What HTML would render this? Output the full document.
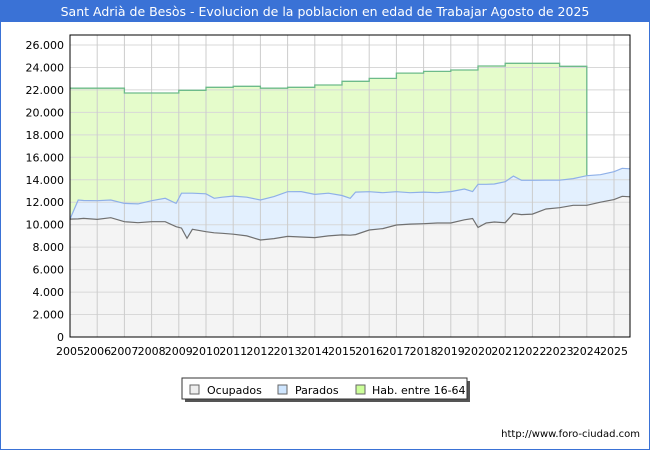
<!DOCTYPE html>
<html><head><meta charset="utf-8"><style>
body{margin:0;background:#fff;}
svg{display:block;font-family:"DejaVu Sans","Liberation Sans",sans-serif;}
</style></head><body>
<svg id="chart" width="650" height="450" viewBox="0 0 650 450">
<rect x="0" y="0" width="650" height="450" fill="#fff" stroke="#3a72d6" stroke-width="2"/>
<rect x="0" y="0" width="650" height="22" fill="#3a72d6"/>
<text x="325" y="16" text-anchor="middle" fill="#fff" font-size="12.5">Sant Adrià de Besòs - Evolucion de la poblacion en edad de Trabajar Agosto de 2025</text>
<g id="plot"></g>
<g>
<rect x="185" y="381" width="285" height="21" fill="#555"/>
<rect x="182" y="378" width="285" height="21" fill="#fff" stroke="#333"/>
<rect x="190" y="385" width="9" height="9" fill="#eeeeee" stroke="#666"/>
<text x="207" y="394" font-size="11" fill="#000">Ocupados</text>
<rect x="278" y="385" width="9" height="9" fill="#cfe6ff" stroke="#666"/>
<text x="295" y="394" font-size="11" fill="#000">Parados</text>
<rect x="356" y="385" width="9" height="9" fill="#ccff99" stroke="#666"/>
<text x="372" y="394" font-size="11" fill="#000">Hab. entre 16-64</text>
</g>
<text x="640" y="437" text-anchor="end" font-size="10" fill="#000">http://www.foro-ciudad.com</text>
</svg>
<script>
const years = [2005,2006,2007,2008,2009,2010,2011,2012,2013,2014,2015,2016,2017,2018,2019,2020,2021,2022,2023];
const habValues = [22150,22150,21725,21725,21970,22230,22320,22150,22230,22440,22770,23030,23500,23650,23770,24130,24370,24370,24100];
const monthTimes = [2005.0,2005.3,2005.5,2006.0,2006.5,2007.0,2007.5,2008.0,2008.5,2008.9,2009.1,2009.3,2009.5,2010.0,2010.3,2010.6,2011.0,2011.5,2012.0,2012.5,2013.0,2013.5,2014.0,2014.5,2015.0,2015.3,2015.5,2016.0,2016.5,2017.0,2017.5,2018.0,2018.5,2019.0,2019.5,2019.8,2020.0,2020.3,2020.6,2021.0,2021.3,2021.6,2022.0,2022.5,2023.0,2023.5,2024.0,2024.5,2025.0,2025.3,2025.6];
const paradosValues = [10500,12200,12150,12140,12200,11900,11850,12140,12350,11900,12800,12800,12800,12750,12350,12450,12550,12450,12200,12500,12940,12950,12700,12800,12600,12350,12900,12940,12850,12940,12850,12900,12850,12950,13180,12950,13600,13600,13620,13830,14330,13950,13950,13960,13960,14100,14360,14450,14720,15020,14980];
const ocupadosValues = [10500,10520,10560,10470,10620,10270,10180,10270,10270,9820,9700,8790,9590,9380,9280,9230,9150,9000,8640,8760,8960,8900,8850,9000,9090,9060,9120,9530,9650,9970,10050,10090,10150,10150,10440,10550,9760,10150,10240,10180,11000,10900,10940,11400,11510,11730,11730,12000,12230,12530,12480];
const yTicks = [0,2000,4000,6000,8000,10000,12000,14000,16000,18000,20000,22000,24000,26000];
const xTickYears = [2005,2006,2007,2008,2009,2010,2011,2012,2013,2014,2015,2016,2017,2018,2019,2020,2021,2022,2023,2024,2025];

const NS="http://www.w3.org/2000/svg";
const L=70,R=630,T=35,B=337;
const xS=t=>L+(t-2005)*27.2;
const yS=v=>B-v*(B-45)/26000;
const g=document.getElementById('plot');
function mk(tag,attrs){const e=document.createElementNS(NS,tag);for(const k in attrs)e.setAttribute(k,attrs[k]);g.appendChild(e);return e;}

const bg=mk('rect',{x:L,y:T,width:R-L,height:B-T,fill:'#fff'});



const tEnd=2024.0;
let hp=[];
years.forEach((yr,i)=>{const nx=i<years.length-1?years[i+1]:tEnd;hp.push([xS(yr),yS(habValues[i])]);hp.push([xS(nx),yS(habValues[i])]);});
function interp(arr,t){for(let i=0;i<monthTimes.length-1;i++){if(t>=monthTimes[i]&&t<=monthTimes[i+1]){const f=(t-monthTimes[i])/(monthTimes[i+1]-monthTimes[i]);return arr[i]+f*(arr[i+1]-arr[i]);}}return arr[arr.length-1];}
const parEnd=interp(paradosValues,tEnd);
let habD='M'+hp.map(p=>p[0].toFixed(1)+','+p[1].toFixed(1)).join(' L')+' L'+xS(tEnd).toFixed(1)+','+yS(parEnd).toFixed(1);
const habArea=mk('path',{d:habD+' L'+xS(2005)+','+B+' Z',fill:'#e5fccb'});



const parPts=monthTimes.map((t,i)=>xS(t).toFixed(1)+','+yS(paradosValues[i]).toFixed(1));
const ocuPts=monthTimes.map((t,i)=>xS(t).toFixed(1)+','+yS(ocupadosValues[i]).toFixed(1));
const parArea=mk('path',{d:'M'+parPts.join(' L')+' L'+xS(monthTimes[monthTimes.length-1])+','+B+' L'+L+','+B+' Z',fill:'#e3f0fe'});


const ocuArea=mk('path',{d:'M'+ocuPts.join(' L')+' L'+xS(monthTimes[monthTimes.length-1])+','+B+' L'+L+','+B+' Z',fill:'#f4f4f4'});



yTicks.forEach(v=>{
 const ln=mk('line',{x1:L,x2:R,y1:yS(v),y2:yS(v),stroke:'#d8d8d8','stroke-width':1});
 
 
 const tx=mk('text',{x:L-6,y:yS(v)+4,'text-anchor':'end','font-size':11,fill:'#000'});
 tx.textContent=v===0?'0':(Math.floor(v/1000)+'.'+String(v%1000).padStart(3,'0'));
 
 
});
xTickYears.forEach(yr=>{
 if(yr>2005){const ln=mk('line',{x1:xS(yr),x2:xS(yr),y1:T,y2:B,stroke:'#cccccc','stroke-width':1});
 
 }
 const tx=mk('text',{x:xS(yr),y:B+18,'text-anchor':'middle','font-size':11,fill:'#000'});
 tx.textContent=yr;
 
 
});

const habLine=mk('path',{d:habD,fill:'none',stroke:'#6dbb8a','stroke-width':1.3});


const parLine=mk('path',{d:'M'+parPts.join(' L'),fill:'none',stroke:'#8fb0e8','stroke-width':1.2});


const ocuLine=mk('path',{d:'M'+ocuPts.join(' L'),fill:'none',stroke:'#707070','stroke-width':1.2});


const border=mk('rect',{x:L,y:T,width:R-L,height:B-T,fill:'none',stroke:'#000','stroke-width':1});


</script>
</body></html>
